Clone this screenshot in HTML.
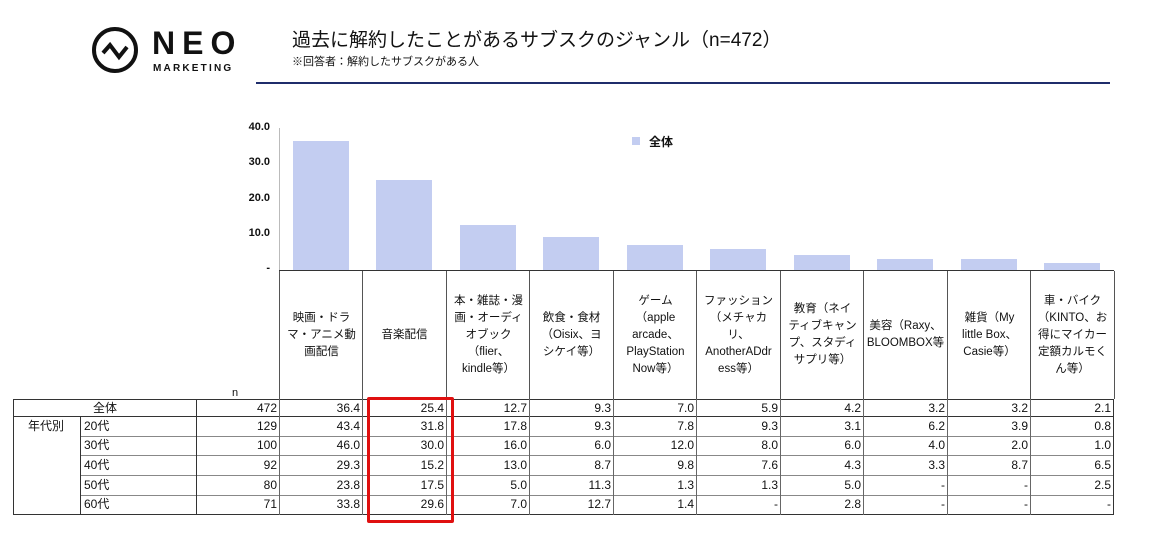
<!DOCTYPE html>
<html><head><meta charset="utf-8"><style>
body{margin:0;width:1155px;height:543px;background:#fff;position:relative;overflow:hidden;font-family:"Liberation Sans","Noto Sans CJK JP",sans-serif;color:#111}
.a{position:absolute}
.hc{position:absolute;top:271px;height:128px;display:flex;align-items:center;justify-content:center;text-align:center;font-size:11.5px;line-height:17px;border-left:1px solid #555}
.bar{position:absolute;background:#c3cdf1;width:56px}
.yl{position:absolute;left:226px;width:44px;text-align:right;font-size:11px;font-weight:bold}
.c{position:absolute;font-size:12px;text-align:right;height:19px;line-height:19px}
.hl{position:absolute;height:1px;background:#888}
.vl{position:absolute;width:1px;background:#666}
</style></head><body>
<svg class="a" style="left:91px;top:26px" width="50" height="50"><circle cx="24" cy="24" r="21" fill="none" stroke="#111" stroke-width="4"/><polyline points="12,27 19,19 28,31 36,21" fill="none" stroke="#111" stroke-width="4"/></svg>
<div class="a" style="left:152px;top:25px;font-size:32px;font-weight:bold;letter-spacing:7px;line-height:36px">NEO</div>
<div class="a" style="left:153px;top:63px;font-size:10px;font-weight:bold;letter-spacing:2.2px">MARKETING</div>
<div class="a" style="left:292px;top:25px;font-size:19px">過去に解約したことがあるサブスクのジャンル（n=472）</div>
<div class="a" style="left:292px;top:53px;font-size:11px">※回答者：解約したサブスクがある人</div>
<div class="a" style="left:256px;top:82px;width:854px;height:2px;background:#1f2d6b"></div>
<div class="yl" style="top:121px">40.0</div><div class="yl" style="top:156px">30.0</div><div class="yl" style="top:192px">20.0</div><div class="yl" style="top:227px">10.0</div><div class="yl" style="top:262px">-</div>
<div class="vl" style="left:279px;top:128px;height:143px;background:#bbb"></div>
<div class="a" style="left:632px;top:137px;width:8px;height:8px;background:#c3cdf1"></div>
<div class="a" style="left:649px;top:133px;font-size:12px;font-weight:bold">全体</div>
<div class="bar" style="left:293px;top:141px;height:129px"></div>
<div class="bar" style="left:376px;top:180px;height:90px"></div>
<div class="bar" style="left:460px;top:225px;height:45px"></div>
<div class="bar" style="left:543px;top:237px;height:33px"></div>
<div class="bar" style="left:627px;top:245px;height:25px"></div>
<div class="bar" style="left:710px;top:249px;height:21px"></div>
<div class="bar" style="left:794px;top:255px;height:15px"></div>
<div class="bar" style="left:877px;top:259px;height:11px"></div>
<div class="bar" style="left:961px;top:259px;height:11px"></div>
<div class="bar" style="left:1044px;top:263px;height:7px"></div>
<div class="a" style="left:279px;top:270px;width:835px;height:1px;background:#333"></div>
<div class="hc" style="left:279px;width:83px">映画・ドラ<br>マ・アニメ動<br>画配信</div>
<div class="hc" style="left:362px;width:83px">音楽配信</div>
<div class="hc" style="left:446px;width:83px">本・雑誌・漫<br>画・オーディ<br>オブック<br>（flier、<br>kindle等）</div>
<div class="hc" style="left:529px;width:83px">飲食・食材<br>（Oisix、ヨ<br>シケイ等）</div>
<div class="hc" style="left:613px;width:83px">ゲーム<br>（apple<br>arcade、<br>PlayStation<br>Now等）</div>
<div class="hc" style="left:696px;width:83px">ファッション<br>（メチャカ<br>リ、<br>AnotherADdr<br>ess等）</div>
<div class="hc" style="left:780px;width:83px">教育（ネイ<br>ティブキャン<br>プ、スタディ<br>サプリ等）</div>
<div class="hc" style="left:863px;width:83px">美容（Raxy、<br>BLOOMBOX等</div>
<div class="hc" style="left:947px;width:83px">雑貨（My<br>little Box、<br>Casie等）</div>
<div class="hc" style="left:1030px;width:83px;border-right:1px solid #555">車・バイク<br>（KINTO、お<br>得にマイカー<br>定額カルモく<br>ん等）</div>
<div class="a" style="left:232px;top:387px;font-size:11px">n</div>
<div class="a" style="left:13px;top:399px;width:1101px;height:1px;background:#333"></div>
<div class="a" style="left:13px;top:416px;width:1101px;height:1px;background:#333"></div>
<div class="hl" style="left:80px;top:436px;width:1034px"></div>
<div class="hl" style="left:80px;top:455px;width:1034px"></div>
<div class="hl" style="left:80px;top:475px;width:1034px"></div>
<div class="hl" style="left:80px;top:495px;width:1034px"></div>
<div class="a" style="left:13px;top:514px;width:1101px;height:1px;background:#333"></div>
<div class="vl" style="left:13px;top:399px;height:116px;background:#333"></div>
<div class="vl" style="left:80px;top:416px;height:99px;background:#333"></div>
<div class="vl" style="left:196px;top:399px;height:116px;background:#333"></div>
<div class="vl" style="left:279px;top:399px;height:116px"></div>
<div class="vl" style="left:362px;top:399px;height:116px"></div>
<div class="vl" style="left:446px;top:399px;height:116px"></div>
<div class="vl" style="left:529px;top:399px;height:116px"></div>
<div class="vl" style="left:613px;top:399px;height:116px"></div>
<div class="vl" style="left:696px;top:399px;height:116px"></div>
<div class="vl" style="left:780px;top:399px;height:116px"></div>
<div class="vl" style="left:863px;top:399px;height:116px"></div>
<div class="vl" style="left:947px;top:399px;height:116px"></div>
<div class="vl" style="left:1030px;top:399px;height:116px"></div>
<div class="vl" style="left:1113px;top:399px;height:116px;background:#333"></div>
<div class="a" style="left:93px;top:399px;font-size:12px;line-height:19px">全体</div>
<div class="a" style="left:28px;top:417px;font-size:12px;line-height:19px">年代別</div>
<div class="a" style="left:84px;top:417px;font-size:12px;line-height:19px">20代</div>
<div class="a" style="left:84px;top:436px;font-size:12px;line-height:19px">30代</div>
<div class="a" style="left:84px;top:456px;font-size:12px;line-height:19px">40代</div>
<div class="a" style="left:84px;top:476px;font-size:12px;line-height:19px">50代</div>
<div class="a" style="left:84px;top:495px;font-size:12px;line-height:19px">60代</div>
<div id="t"></div>
<div class="a" style="left:367px;top:397px;width:81px;height:120px;border:3px solid #e01010;border-radius:2px"></div>
<script>
var rows=[["472","36.4","25.4","12.7","9.3","7.0","5.9","4.2","3.2","3.2","2.1"],
["129","43.4","31.8","17.8","9.3","7.8","9.3","3.1","6.2","3.9","0.8"],
["100","46.0","30.0","16.0","6.0","12.0","8.0","6.0","4.0","2.0","1.0"],
["92","29.3","15.2","13.0","8.7","9.8","7.6","4.3","3.3","8.7","6.5"],
["80","23.8","17.5","5.0","11.3","1.3","1.3","5.0","-","-","2.5"],
["71","33.8","29.6","7.0","12.7","1.4","-","2.8","-","-","-"]];
var tops=[399,417,436,456,476,495];
var right=[279,362,446,529,613,696,780,863,947,1030,1113];
var h="";
rows.forEach(function(r,i){r.forEach(function(v,j){h+='<div class="c" style="left:'+(right[j]-80)+'px;width:78px;top:'+tops[i]+'px">'+v+'</div>';});});
document.getElementById("t").innerHTML=h;
</script>
</body></html>
